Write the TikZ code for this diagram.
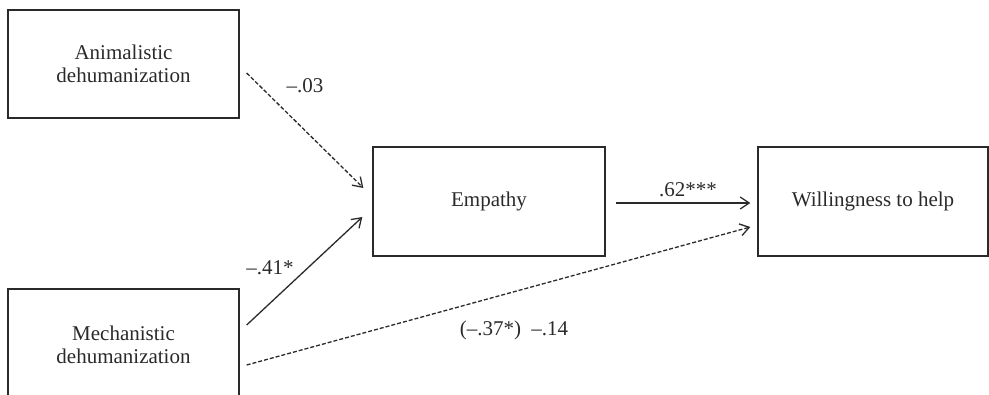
\documentclass[tikz,border=0pt]{standalone}
\usepackage{fontspec}
\setmainfont{Liberation Serif}
\usetikzlibrary{arrows.meta}
\definecolor{ink}{HTML}{2A2A2A}
\tikzset{
  box/.style={draw=ink, line width=1.3pt, minimum width=231pt, minimum height=108pt, align=center, inner sep=0pt, text=ink, font=\fontsize{21}{23}\selectfont},
  path/.style={draw=ink, line width=1.3pt, -{Straight Barb[length=9pt,width=12pt,line width=1.3pt]}},
  dsh/.style={dash pattern=on 4pt off 2pt},
  lbl/.style={text=ink, font=\fontsize{21}{23}\selectfont, inner sep=0pt}
}
\begin{document}
\begin{tikzpicture}[x=1pt,y=-1pt]
\useasboundingbox (0,0) rectangle (989,394);
\clip (0,0) rectangle (989,394);
\node[box] (anim) at (123.5,64) {Animalistic\\dehumanization};
\node[box, minimum height=112pt] (mech) at (123.5,345) {Mechanistic\\dehumanization};
\node[box, minimum width=232pt, minimum height=109pt] (emp) at (489,201.5) {Empathy};
\node[box, minimum width=230pt, minimum height=109pt] (will) at (873,201.5) {Willingness to help};
\coordinate (a0) at ([shift={(7,9)}]anim.east);
\coordinate (a1) at ([shift={(-9,-13.5)}]emp.west);
\coordinate (m0) at ([shift={(7,-20)}]mech.east);
\coordinate (m1) at ([shift={(-10,15.5)}]emp.west);
\coordinate (m2) at ([shift={(7,20)}]mech.east);
\coordinate (w1) at ([shift={(-7,25.5)}]will.west);
\coordinate (e0) at ([shift={(10,1.5)}]emp.east);
\coordinate (e1) at ([shift={(-7,1.5)}]will.west);
\draw[path, dsh] (a0) -- (a1);
\draw[path] (m0) -- (m1);
\draw[path] (e0) -- (e1);
\draw[path, dsh] (m2) -- (w1);
\node[lbl] (l1) at (305,86) {–.03};
\node[lbl] (l2) at (270,268) {–.41*};
\node[lbl] (l3) at (688,190) {.62***};
\node[lbl] (l4) at (514,330) {(–.37*)\ \ –.14};
\end{tikzpicture}
\end{document}
